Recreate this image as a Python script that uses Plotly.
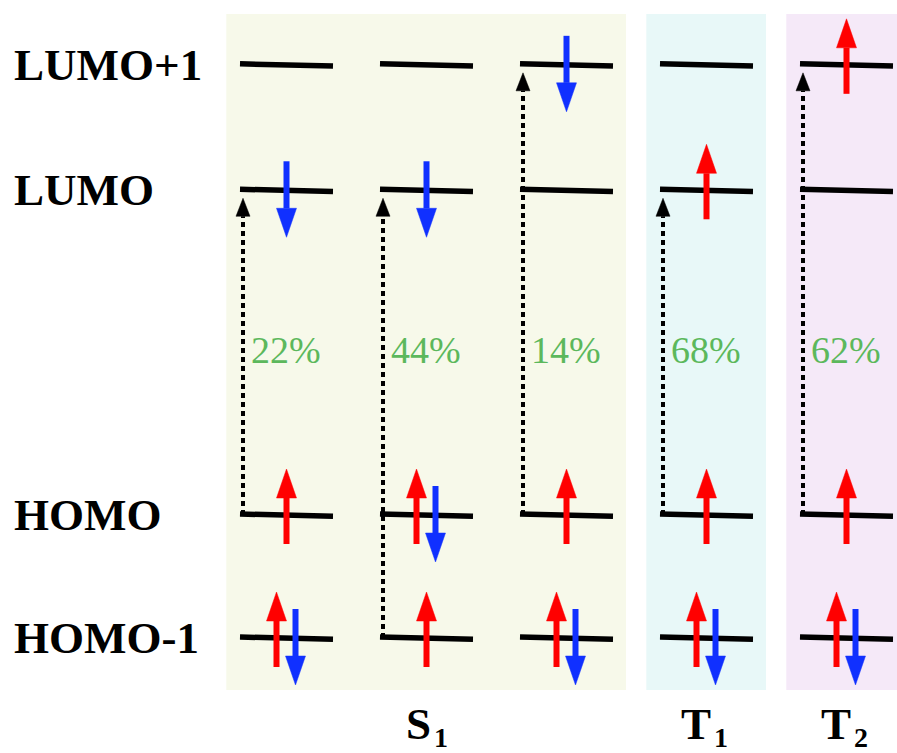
import plotly.graph_objects as go

# ---------------- data ----------------
level_names = ["HOMO-1", "HOMO", "LUMO", "LUMO+1"]
level_energy = [0.0, 1.0, 3.64, 4.66]          # schematic energies (arb. units)
column_state = ["S1", "S1", "S1", "T1", "T2"]
# occupation of each level per column (order follows level_names): u = spin up, d = spin down
occupation = [
    ["ud", "u", "d", ""],
    ["u", "ud", "d", ""],
    ["ud", "u", "", "d"],
    ["ud", "u", "u", ""],
    ["ud", "u", "", "u"],
]
trans_from = ["HOMO", "HOMO-1", "HOMO", "HOMO", "HOMO"]
trans_to = ["LUMO", "LUMO", "LUMO+1", "LUMO", "LUMO+1"]
trans_weight = [22, 44, 14, 68, 62]
state_labels = ["S", "T", "T"]
state_subs = ["1", "1", "2"]
state_names = ["S1", "T1", "T2"]
panel_colors = ["#f7f9ea", "#e8f8f8", "#f5e9f8"]

# ---------------- geometry (pixel helpers) ----------------
W, H = 897, 753
PX_X = 140.0   # px per column unit
PX_Y = 123.0   # px per energy unit
x0_px, y0_px = 286.5, 638.0
xr = [-x0_px / PX_X, (W - x0_px) / PX_X]
yr = [(y0_px - H) / PX_Y, y0_px / PX_Y]
px = lambda p: p / PX_X
py = lambda p: p / PX_Y

RED = "#ff0000"
BLUE = "#1030ff"
GREEN = "#5cb85c"
SERIF = "Liberation Serif"
E = dict(zip(level_names, level_energy))

fig = go.Figure()

# panels
for s, col in zip(state_names, panel_colors):
    idx = [i for i, c in enumerate(column_state) if c == s]
    fig.add_shape(type="rect", xref="x", yref="y", layer="below", line_width=0,
                  fillcolor=col,
                  x0=min(idx) - 0.43, x1=max(idx) + 0.425,
                  y0=level_energy[0] - 0.423, y1=level_energy[-1] + 0.413)

# level lines
lx, ly = [], []
half = px(46.5)
for ci in range(len(column_state)):
    for e in level_energy:
        lx += [ci - half, ci + half, None]
        ly += [e + py(1), e - py(1.2), None]
fig.add_trace(go.Scatter(x=lx, y=ly, mode="lines",
                         line=dict(color="black", width=5.5), hoverinfo="skip"))

# spin arrows
def spin_arrows(color, up):
    sx, sy, tx, ty = [], [], [], []
    hl, hw = py(29), px(10)
    for ci, occ in enumerate(occupation):
        for e, o in zip(level_energy, occ):
            ch = "u" if up else "d"
            if ch not in o:
                continue
            if len(o) == 2:
                x = ci - px(10) if up else ci + px(9)
            else:
                x = ci
            if up:
                tail, tip = e - py(29), e + py(46)
                base = tip - hl
            else:
                tail, tip = e + py(29), e - py(47)
                base = tip + hl
            sx += [x, x, None]
            sy += [tail, base, None]
            tx += [x - hw, x + hw, x, x - hw, None]
            ty += [base, base, tip, base, None]
    fig.add_trace(go.Scatter(x=sx, y=sy, mode="lines",
                             line=dict(color=color, width=6), hoverinfo="skip"))
    fig.add_trace(go.Scatter(x=tx, y=ty, mode="lines", fill="toself",
                             fillcolor=color, line=dict(color=color, width=0.5),
                             hoverinfo="skip"))

spin_arrows(RED, True)
spin_arrows(BLUE, False)

# excitation arrows (dotted) and weights
dx, dy, hx, hy = [], [], [], []
for ci, (f, t, w) in enumerate(zip(trans_from, trans_to, trans_weight)):
    xd = ci - px(43.5)
    tip = E[t] - py(8)
    base = tip - py(18)
    dx += [xd, xd, None]
    dy += [E[f], base, None]
    hx += [xd - px(7), xd + px(7), xd, xd - px(7), None]
    hy += [base, base, tip, base, None]
    fig.add_annotation(x=xd + px(6), y=2.345, xref="x", yref="y",
                       text=f"{w}%", showarrow=False, xanchor="left", yanchor="middle",
                       font=dict(family=SERIF, size=38, color=GREEN))
fig.add_trace(go.Scatter(x=dx, y=dy, mode="lines",
                         line=dict(color="black", width=4, dash="5px,4px"),
                         hoverinfo="skip"))
fig.add_trace(go.Scatter(x=hx, y=hy, mode="lines", fill="toself", fillcolor="black",
                         line=dict(color="black", width=0.5), hoverinfo="skip"))

# level labels
for name, e in zip(level_names, level_energy):
    fig.add_annotation(x=xr[0] + px(12), y=e, xref="x", yref="y", text=f"<b>{name}</b>",
                       showarrow=False, xanchor="left", yanchor="middle",
                       font=dict(family=SERIF, size=45, color="black"))

# state labels (main letter + lowered subscript)
for s, lab, sub in zip(state_names, state_labels, state_subs):
    idx = [i for i, c in enumerate(column_state) if c == s]
    xc = (min(idx) + max(idx)) / 2
    fig.add_annotation(x=xc + px(6), y=yr[0] + py(56), xref="x", yref="y",
                       text=f"<b>{lab}</b>",
                       showarrow=False, xanchor="right", yanchor="top",
                       font=dict(family=SERIF, size=45, color="black"))
    fig.add_annotation(x=xc + px(5), y=yr[0] + py(33), xref="x", yref="y",
                       text=f"<b>{sub}</b>",
                       showarrow=False, xanchor="left", yanchor="top",
                       font=dict(family=SERIF, size=28, color="black"))

fig.update_layout(
    width=W, height=H, margin=dict(l=0, r=0, t=0, b=0),
    paper_bgcolor="white", plot_bgcolor="white", showlegend=False,
    xaxis=dict(range=xr, visible=False, fixedrange=True),
    yaxis=dict(range=yr, visible=False, fixedrange=True),
    hovermode=False,
)
fig.write_html("out.html")
